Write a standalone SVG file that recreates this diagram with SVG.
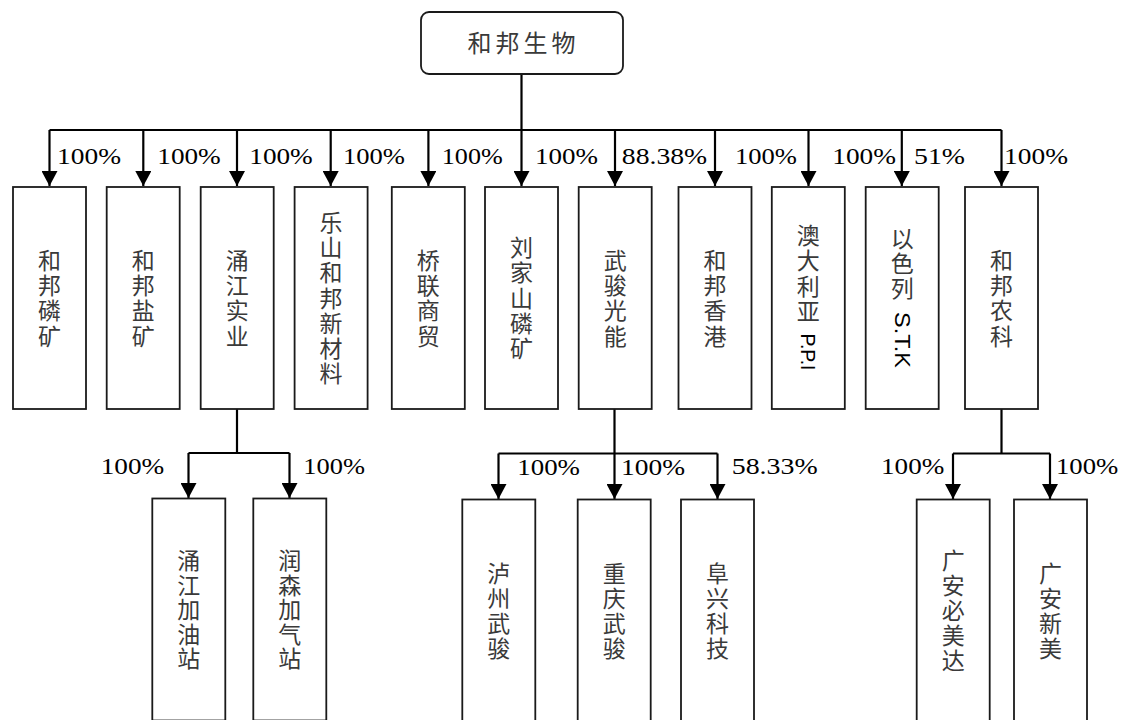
<svg xmlns="http://www.w3.org/2000/svg" width="1123" height="720" viewBox="0 0 1123 720">
<style>
.box{fill:#fff;stroke:#1a1a1a;stroke-width:1.8}
.ln{fill:none;stroke:#000;stroke-width:2.2}
.ar{fill:none;stroke:#000;stroke-width:2.2;marker-end:url(#ah)}
.cn{font-family:"Noto Sans CJK SC","Noto Sans CJK TC",sans-serif;font-size:23px;fill:#3a3a3a;text-anchor:middle}
.pc{font-size:24px;fill:#000}
.lat{font-family:"Liberation Sans",Arial,sans-serif;font-size:21px;fill:#000;text-anchor:middle;dominant-baseline:central}
</style>
<defs>
<marker id="ah" markerUnits="userSpaceOnUse" markerWidth="15" markerHeight="16" viewBox="0 0 14 15" refX="14" refY="7.5" orient="auto">
<path d="M0,0 L14,7.5 L0,15 Z" fill="#000"/>
</marker>
</defs>
<rect width="1123" height="720" fill="#fff"/>

<g id="connectors">
<path class="ln" d="M521.5,74 V130 M49.5,130 H1001.5"/>
<path class="ar" d="M49.5,130 V186"/>
<path class="ar" d="M143.3,130 V186"/>
<path class="ar" d="M237,130 V186"/>
<path class="ar" d="M330.7,130 V186"/>
<path class="ar" d="M428.4,130 V186"/>
<path class="ar" d="M521.5,130 V186"/>
<path class="ar" d="M615,130 V186"/>
<path class="ar" d="M715,130 V186"/>
<path class="ar" d="M808.5,130 V186"/>
<path class="ar" d="M901.8,130 V186"/>
<path class="ar" d="M1001.5,130 V186"/>
<path class="ln" d="M237,409 V453 M188.5,453 H289.5"/>
<path class="ar" d="M188.5,453 V498"/>
<path class="ar" d="M289.5,453 V498"/>
<path class="ln" d="M614.5,409 V453.5 M498.5,453.5 H717.5"/>
<path class="ar" d="M498.5,453.5 V499"/>
<path class="ar" d="M614.5,453.5 V499"/>
<path class="ar" d="M717.5,453.5 V499"/>
<path class="ln" d="M1001.5,409 V453.5 M953,453.5 H1050"/>
<path class="ar" d="M953,453.5 V499"/>
<path class="ar" d="M1050,453.5 V499"/>
</g>

<g id="labels" font-family="'Liberation Serif', 'Times New Roman', serif">
<text class="pc" x="57" y="164" textLength="64" lengthAdjust="spacingAndGlyphs">100%</text>
<text class="pc" x="157.3" y="164" textLength="63.5" lengthAdjust="spacingAndGlyphs">100%</text>
<text class="pc" x="249.3" y="164" textLength="63.5" lengthAdjust="spacingAndGlyphs">100%</text>
<text class="pc" x="342.9" y="164" textLength="62" lengthAdjust="spacingAndGlyphs">100%</text>
<text class="pc" x="441.8" y="164" textLength="61" lengthAdjust="spacingAndGlyphs">100%</text>
<text class="pc" x="535" y="164" textLength="63" lengthAdjust="spacingAndGlyphs">100%</text>
<text class="pc" x="621.8" y="164" textLength="85.4" lengthAdjust="spacingAndGlyphs">88.38%</text>
<text class="pc" x="735" y="164" textLength="62" lengthAdjust="spacingAndGlyphs">100%</text>
<text class="pc" x="832.3" y="164" textLength="63.7" lengthAdjust="spacingAndGlyphs">100%</text>
<text class="pc" x="914" y="164" textLength="51" lengthAdjust="spacingAndGlyphs">51%</text>
<text class="pc" x="1004" y="164" textLength="64" lengthAdjust="spacingAndGlyphs">100%</text>
<text class="pc" x="100.7" y="474" textLength="63.6" lengthAdjust="spacingAndGlyphs">100%</text>
<text class="pc" x="303.3" y="473.5" textLength="61.7" lengthAdjust="spacingAndGlyphs">100%</text>
<text class="pc" x="517.3" y="475" textLength="62.7" lengthAdjust="spacingAndGlyphs">100%</text>
<text class="pc" x="621" y="475" textLength="64" lengthAdjust="spacingAndGlyphs">100%</text>
<text class="pc" x="731.7" y="474" textLength="86" lengthAdjust="spacingAndGlyphs">58.33%</text>
<text class="pc" x="881" y="473.5" textLength="63.3" lengthAdjust="spacingAndGlyphs">100%</text>
<text class="pc" x="1056" y="473.5" textLength="62.3" lengthAdjust="spacingAndGlyphs">100%</text>
</g>

<g id="n-root">
<rect class="box" x="421" y="12" width="202" height="62" rx="8"/>
<text class="cn" x="521.5" y="52" style="font-size:24px;letter-spacing:4px" dx="2">和邦生物</text>
</g>

<g id="n1">
<rect class="box" x="13" y="187" width="73" height="222"/>
<text class="cn"><tspan x="49.5" y="268.5">和</tspan><tspan x="49.5" y="293.8">邦</tspan><tspan x="49.5" y="319.2">磷</tspan><tspan x="49.5" y="344.5">矿</tspan></text>
</g>
<g id="n2">
<rect class="box" x="106.7" y="187" width="73" height="222"/>
<text class="cn"><tspan x="143.2" y="268.5">和</tspan><tspan x="143.2" y="293.8">邦</tspan><tspan x="143.2" y="319.2">盐</tspan><tspan x="143.2" y="344.5">矿</tspan></text>
</g>
<g id="n3">
<rect class="box" x="200.7" y="187" width="73" height="222"/>
<text class="cn"><tspan x="237.2" y="268.5">涌</tspan><tspan x="237.2" y="293.8">江</tspan><tspan x="237.2" y="319.2">实</tspan><tspan x="237.2" y="344.5">业</tspan></text>
</g>
<g id="n4">
<rect class="box" x="294.6" y="187" width="73" height="222"/>
<text class="cn"><tspan x="331.1" y="230.6">乐</tspan><tspan x="331.1" y="255.9">山</tspan><tspan x="331.1" y="281.2">和</tspan><tspan x="331.1" y="306.5">邦</tspan><tspan x="331.1" y="331.8">新</tspan><tspan x="331.1" y="357.1">材</tspan><tspan x="331.1" y="382.4">料</tspan></text>
</g>
<g id="n5">
<rect class="box" x="391.8" y="187" width="73" height="222"/>
<text class="cn"><tspan x="428.3" y="268.5">桥</tspan><tspan x="428.3" y="293.8">联</tspan><tspan x="428.3" y="319.2">商</tspan><tspan x="428.3" y="344.5">贸</tspan></text>
</g>
<g id="n6">
<rect class="box" x="485" y="187" width="73" height="222"/>
<text class="cn"><tspan x="521.5" y="255.9">刘</tspan><tspan x="521.5" y="281.2">家</tspan><tspan x="521.5" y="306.5">山</tspan><tspan x="521.5" y="331.8">磷</tspan><tspan x="521.5" y="357.1">矿</tspan></text>
</g>
<g id="n7">
<rect class="box" x="578.7" y="187" width="73" height="222"/>
<text class="cn"><tspan x="615.2" y="268.5">武</tspan><tspan x="615.2" y="293.8">骏</tspan><tspan x="615.2" y="319.2">光</tspan><tspan x="615.2" y="344.5">能</tspan></text>
</g>
<g id="n8">
<rect class="box" x="678.5" y="187" width="73" height="222"/>
<text class="cn"><tspan x="715" y="268.5">和</tspan><tspan x="715" y="293.8">邦</tspan><tspan x="715" y="319.2">香</tspan><tspan x="715" y="344.5">港</tspan></text>
</g>
<g id="n9">
<rect class="box" x="771.8" y="187" width="73" height="222"/>
<text class="cn"><tspan x="808.3" y="244">澳</tspan><tspan x="808.3" y="269">大</tspan><tspan x="808.3" y="295">利</tspan><tspan x="808.3" y="320">亚</tspan></text>
<text class="lat" transform="translate(808.3,352) rotate(90)" textLength="37" lengthAdjust="spacingAndGlyphs">P.P.I</text>
</g>
<g id="n10">
<rect class="box" x="865.7" y="187" width="73" height="222"/>
<text class="cn"><tspan x="902.2" y="247">以</tspan><tspan x="902.2" y="272">色</tspan><tspan x="902.2" y="297">列</tspan></text>
<text class="lat" transform="translate(902.2,340) rotate(90)" style="font-size:22px" textLength="56" lengthAdjust="spacingAndGlyphs">S.T.K</text>
</g>
<g id="n11">
<rect class="box" x="965" y="187" width="73" height="222"/>
<text class="cn"><tspan x="1001.5" y="268.5">和</tspan><tspan x="1001.5" y="293.8">邦</tspan><tspan x="1001.5" y="319.2">农</tspan><tspan x="1001.5" y="344.5">科</tspan></text>
</g>

<g id="n12">
<rect class="box" x="152.3" y="498.5" width="73" height="222"/>
<text class="cn"><tspan x="188.8" y="569">涌</tspan><tspan x="188.8" y="593.5">江</tspan><tspan x="188.8" y="618">加</tspan><tspan x="188.8" y="642.5">油</tspan><tspan x="188.8" y="667">站</tspan></text>
</g>
<g id="n13">
<rect class="box" x="253.3" y="498.5" width="73" height="222"/>
<text class="cn"><tspan x="289.8" y="569">润</tspan><tspan x="289.8" y="593.5">森</tspan><tspan x="289.8" y="618">加</tspan><tspan x="289.8" y="642.5">气</tspan><tspan x="289.8" y="667">站</tspan></text>
</g>
<g id="n14">
<rect class="box" x="462.3" y="499.5" width="73" height="222"/>
<text class="cn"><tspan x="498.8" y="581.5">泸</tspan><tspan x="498.8" y="606.5">州</tspan><tspan x="498.8" y="631.5">武</tspan><tspan x="498.8" y="656.5">骏</tspan></text>
</g>
<g id="n15">
<rect class="box" x="577.7" y="499.5" width="73" height="222"/>
<text class="cn"><tspan x="614.2" y="581.5">重</tspan><tspan x="614.2" y="606.5">庆</tspan><tspan x="614.2" y="631.5">武</tspan><tspan x="614.2" y="656.5">骏</tspan></text>
</g>
<g id="n16">
<rect class="box" x="681" y="499.5" width="73" height="222"/>
<text class="cn"><tspan x="717.5" y="581.5">阜</tspan><tspan x="717.5" y="606.5">兴</tspan><tspan x="717.5" y="631.5">科</tspan><tspan x="717.5" y="656.5">技</tspan></text>
</g>
<g id="n17">
<rect class="box" x="916.7" y="499.5" width="73" height="222"/>
<text class="cn"><tspan x="953.2" y="569">广</tspan><tspan x="953.2" y="594">安</tspan><tspan x="953.2" y="619">必</tspan><tspan x="953.2" y="644">美</tspan><tspan x="953.2" y="669">达</tspan></text>
</g>
<g id="n18">
<rect class="box" x="1014" y="499.5" width="73" height="222"/>
<text class="cn"><tspan x="1050.5" y="581.5">广</tspan><tspan x="1050.5" y="606.5">安</tspan><tspan x="1050.5" y="631.5">新</tspan><tspan x="1050.5" y="656.5">美</tspan></text>
</g>
</svg>
